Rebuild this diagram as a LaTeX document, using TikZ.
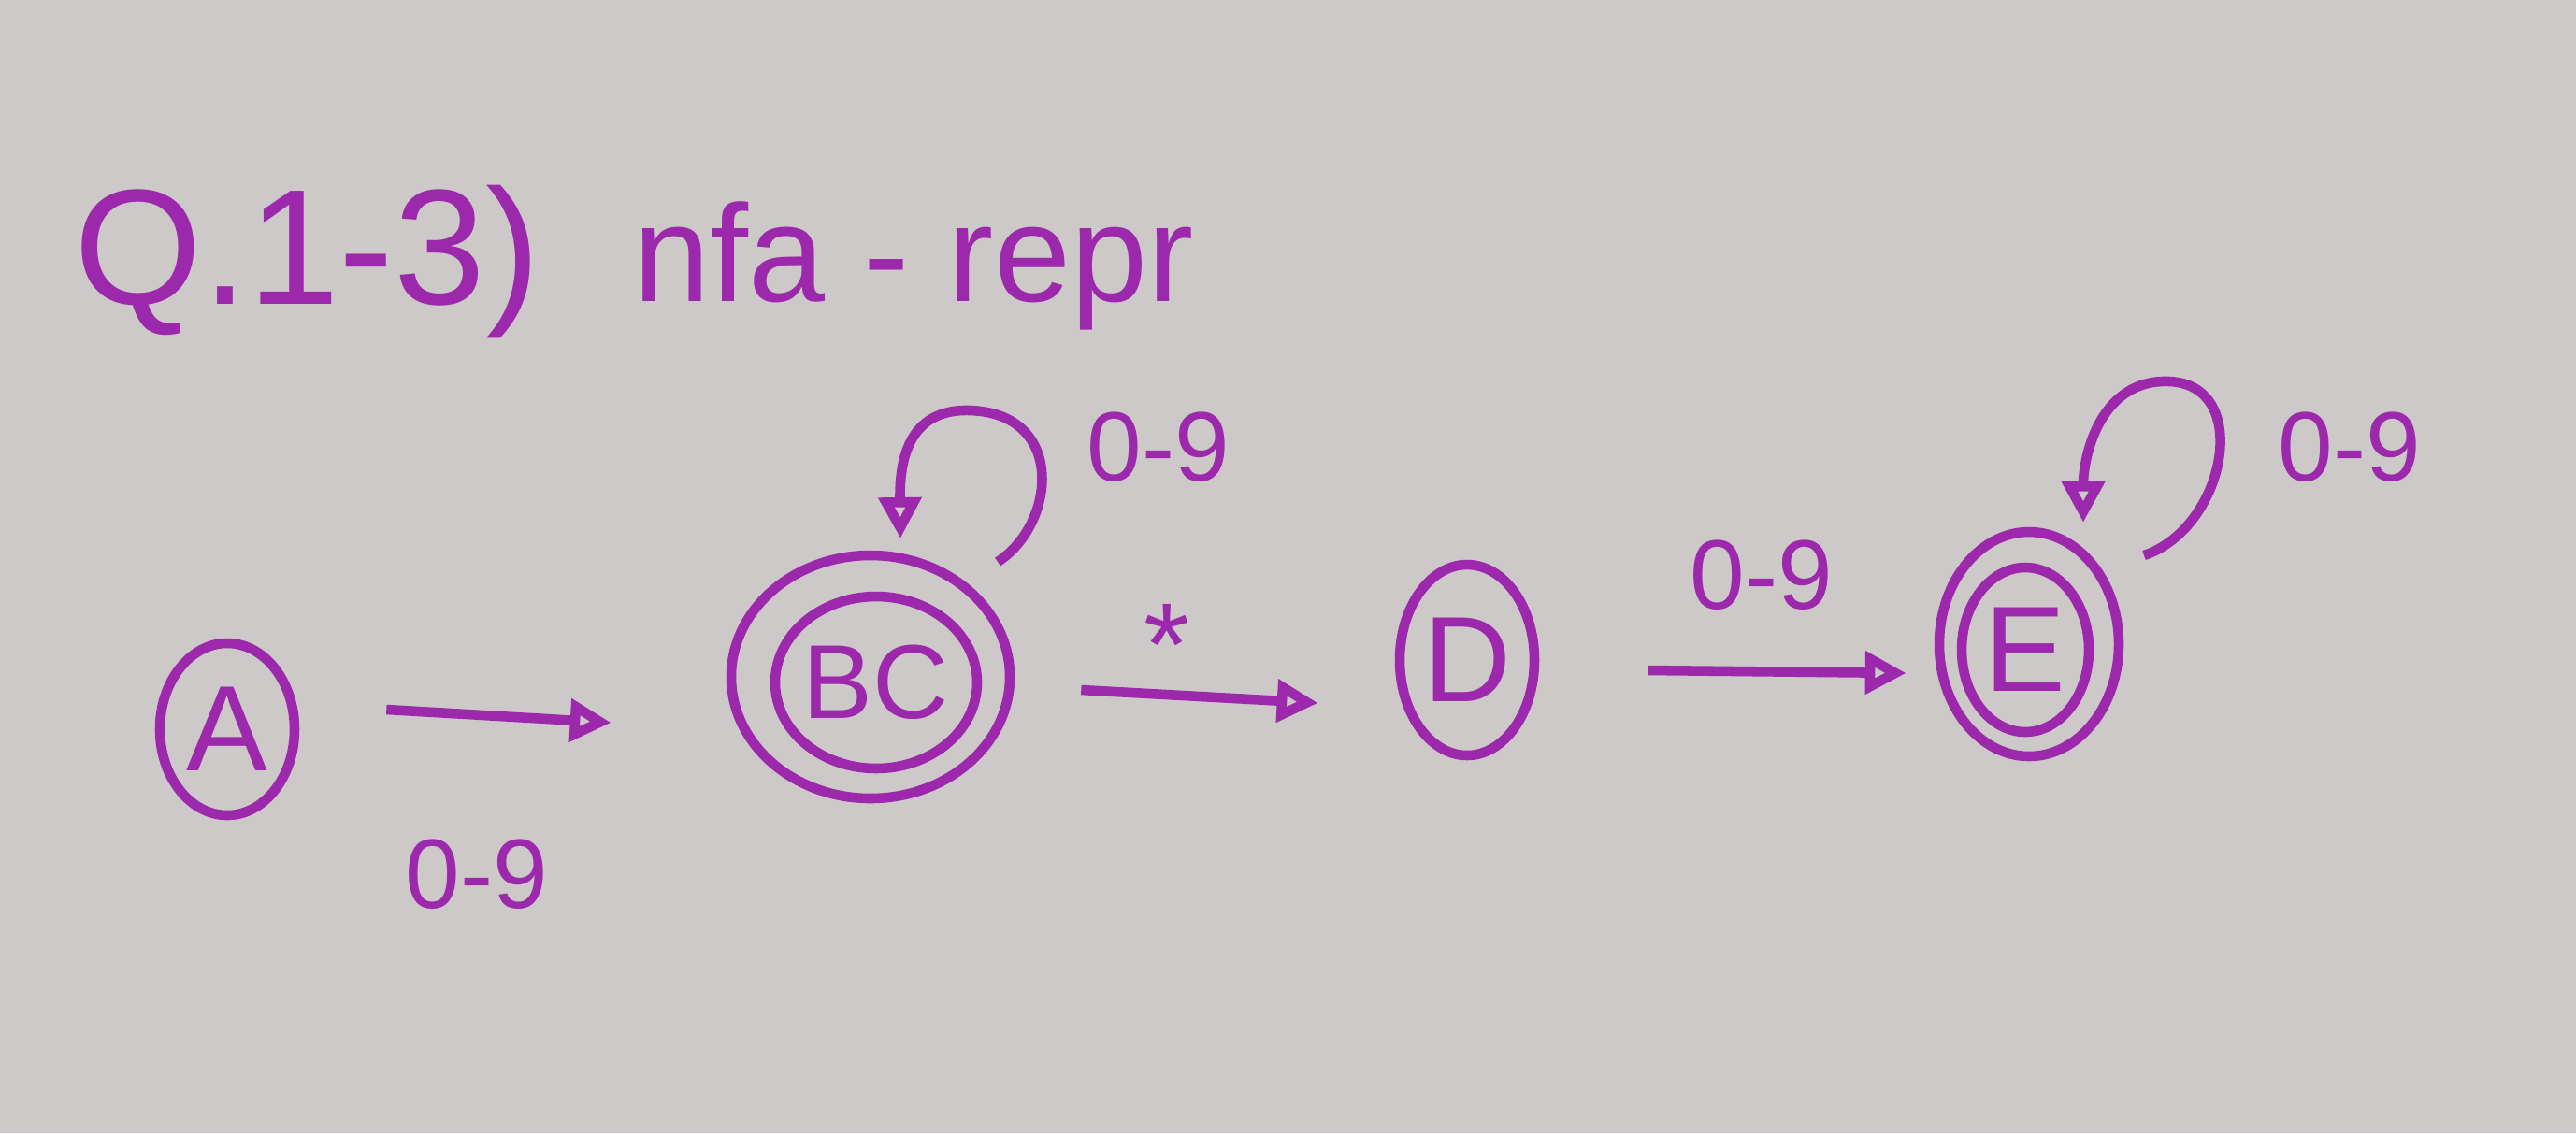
\documentclass[tikz,border=0pt]{standalone}
\usepackage{fontspec}
\setmainfont{Liberation Sans}
\usetikzlibrary{shapes.geometric,arrows.meta,calc}
\definecolor{pen}{RGB}{156,40,172}
\definecolor{paper}{RGB}{205,201,201}
\tikzset{
  ink/.style={draw=pen, line width=3pt},
  stateshape/.style={ellipse, ink, inner sep=-0.3cm, text=pen, font=\fontsize{37}{41}\selectfont},
  ring/.style={ellipse, ink, inner sep=0pt},
  arr/.style={ink, -{Triangle[open, length=0.44cm, width=0.44cm, line width=3pt]}},
  lbl/.style={text=pen, font=\fontsize{30}{34}\selectfont, inner sep=0pt},
}
\begin{document}
\begin{tikzpicture}[x=1cm,y=1cm]
\fill[paper] (0,0) rectangle (27.55,-12.12);
\useasboundingbox (0,0) rectangle (27.55,-12.12);

% title
\node[text=pen, anchor=base west, inner sep=0pt, font=\fontsize{50}{54}\selectfont] (t1) at (0.79,-3.25) {Q.1-3)};
\node[text=pen, anchor=base west, inner sep=0pt, font=\fontsize{42}{46}\selectfont] (t2) at (6.77,-3.22) {nfa - repr};

% states
\node[stateshape, minimum width=1.44cm, minimum height=1.84cm] (A) at (2.43,-7.80) {A};
\node[ring, minimum width=2.98cm, minimum height=2.60cm] (BCo) at (9.31,-7.24) {};
\node[stateshape, font=\fontsize{32}{36}\selectfont, minimum width=2.16cm, minimum height=1.84cm] (BC) at (9.37,-7.30) {BC};
\node[stateshape, minimum width=1.44cm, minimum height=2.04cm] (D) at (15.69,-7.06) {D};
\node[ring, minimum width=1.92cm, minimum height=2.40cm] (Eo) at (21.70,-6.89) {};
\node[stateshape, minimum width=1.36cm, minimum height=1.76cm] (E) at (21.66,-6.95) {E};

% transitions
\draw[arr] ($(A.east)+(0.93,0.21)$) -- ($(BCo.west)+(-1.23,-0.49)$);
\draw[arr] ($(BCo.east)+(0.71,-0.14)$) -- ($(D.west)+(-0.82,-0.46)$);
\draw[arr] ($(D.east)+(1.16,-0.11)$) -- ($(Eo.west)+(-0.30,-0.31)$);

% self loops
\coordinate (bcs) at ($(BCo)+(1.36,1.23)$);
\coordinate (bct) at ($(BCo)+(0.32,1.48)$);
\draw[arr] (bcs) .. controls (11.3,-5.6) and (11.4,-4.42) .. (10.37,-4.39)
              .. controls (9.70,-4.37) and (9.62,-4.95) .. (bct);
\coordinate (es) at ($(Eo)+(1.23,0.95)$);
\coordinate (et) at ($(Eo)+(0.58,1.30)$);
\draw[arr] (es) .. controls (23.8,-5.65) and (24.1,-4.12) .. (23.20,-4.08)
              .. controls (22.45,-4.05) and (22.28,-4.9) .. (et);

% labels
\node[lbl] (l1) at (5.10,-9.35) {0-9};
\node[lbl, font=\fontsize{36}{40}\selectfont] (l2) at (12.48,-6.90) {*};
\node[lbl] (l3) at (18.84,-6.15) {0-9};
\node[lbl] (l4) at (12.39,-4.78) {0-9};
\node[lbl] (l5) at (25.13,-4.78) {0-9};
\end{tikzpicture}
\end{document}
